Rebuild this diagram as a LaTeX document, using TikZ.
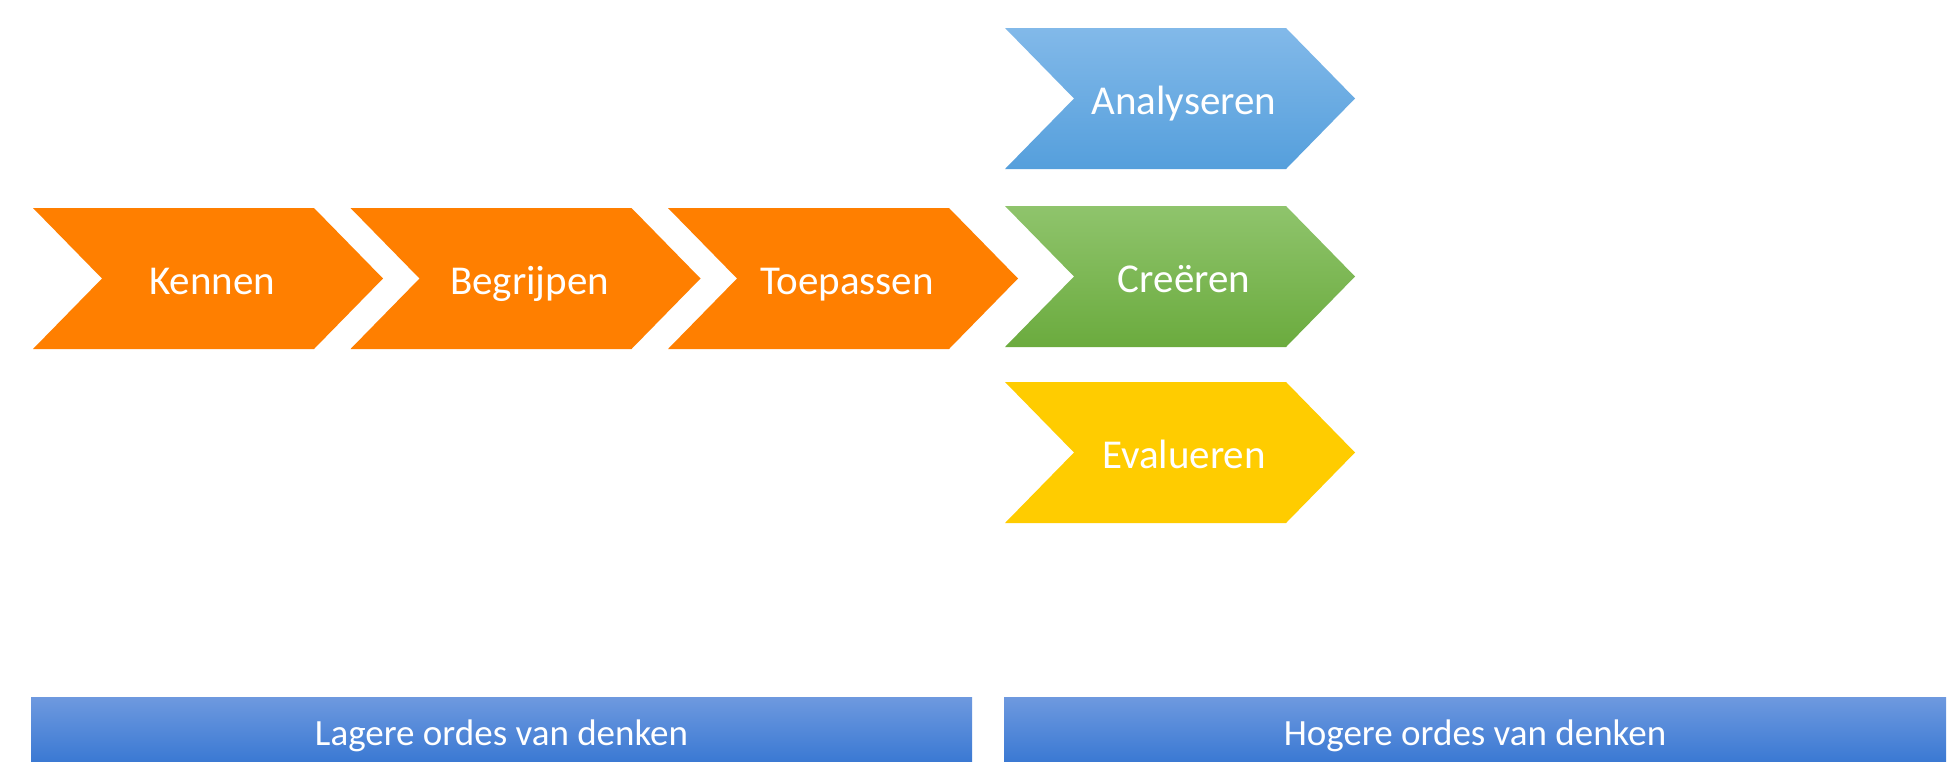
\documentclass[tikz,border=0pt]{standalone}
\usepackage{fontspec}
\setmainfont{Carlito}
\definecolor{orangeA}{HTML}{FF7F00}
\definecolor{yellowA}{HTML}{FFCC00}
\definecolor{blueTop}{HTML}{82B9E9}
\definecolor{blueBot}{HTML}{559FDC}
\definecolor{greenTop}{HTML}{8FC46C}
\definecolor{greenBot}{HTML}{6BAB3E}
\definecolor{barTop}{HTML}{6E99DF}
\definecolor{barBot}{HTML}{3B79D3}
\tikzset{
  lbl/.style={text=white, anchor=base, inner sep=0pt, font=\fontsize{41}{49}\selectfont},
  barlbl/.style={text=white, anchor=base, inner sep=0pt, font=\fontsize{37}{44}\selectfont},
  orangefill/.style={fill=orangeA},
  yellowfill/.style={fill=yellowA},
  bluefill/.style={top color=blueTop, bottom color=blueBot},
  greenfill/.style={top color=greenTop, bottom color=greenBot},
  barfill/.style={top color=barTop, bottom color=barBot},
}
\newcommand\mychev[5]{%
  \path[#4] (#2,#3) -- ++(281,0) -- ++(69,70.5) -- ++(-69,70.5) -- ++(-281,0) -- ++(69,-70.5) -- cycle;
  \node[lbl] (#1) at ({#2+179},{#3+86.5}) {#5};%
}
\begin{document}
\begin{tikzpicture}[x=1pt,y=-1pt]
\useasboundingbox[fill=white] (0,0) rectangle (1956,766);
\mychev{kennen}{33}{208}{orangefill}{Kennen}
\mychev{begrijpen}{350.5}{208}{orangefill}{Begrijpen}
\mychev{toepassen}{668}{208}{orangefill}{Toepassen}
\mychev{analyseren}{1005}{28}{bluefill}{Analyseren}
\mychev{creeren}{1005}{206}{greenfill}{Creëren}
\mychev{evalueren}{1005}{382}{yellowfill}{Evalueren}
\path[barfill] (31,697) rectangle (972,761);
\node[barlbl] (lager) at (501.5,745) {Lagere ordes van denken};
\path[barfill] (1004,697) rectangle (1946,761);
\node[barlbl] (hoger) at (1475,745) {Hogere ordes van denken};
\end{tikzpicture}
\end{document}
